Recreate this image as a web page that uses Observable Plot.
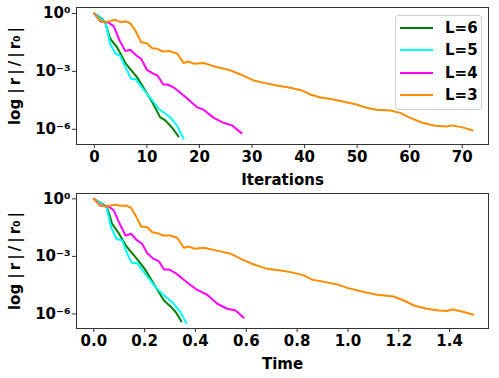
<!DOCTYPE html>
<html>
<head>
<meta charset="utf-8">
<script src="https://cdn.jsdelivr.net/npm/d3@7"></script>
<script src="https://cdn.jsdelivr.net/npm/@observablehq/plot@0.6"></script>
<style>
  body { margin: 0; background: #fff; }
  #wrap { position: relative; width: 499px; height: 378px; font-family: "DejaVu Sans", sans-serif; font-weight: bold; }
  #wrap svg { display: block; }
  #legend { position: absolute; left: 395px; top: 15px; width: 87px; height: 95px; box-sizing: border-box;
    border: 1px solid #d0d0d0; border-radius: 3px; background: rgba(255,255,255,0.85); }
  .entry { position: absolute; left: 4px; height: 22px; display: flex; align-items: center; font-size: 15px; color: #000; }
  .entry .sw { width: 33px; height: 2px; margin-right: 12px; }
</style>
</head>
<body>
<div id="wrap"><div id="top"></div><div id="bottom"></div><div id="legend"></div></div>
<script>
// ---- data (log10 of |r|/|r0|) ----
const seriesNames = ["L=6", "L=5", "L=4", "L=3"];
const seriesColors = ["#008000", "#00FFFF", "#FF00FF", "#FF8C00"];
const yTicks = [1, 1e-3, 1e-6];
const yTickLabels = ["10\u2070", "10\u207B\u00B3", "10\u207B\u2076"];
const yLabel = "log |\u2009r\u2009|\u2009/\u2009|\u2009r\u2080\u2009|";
const iterTicks = [0, 10, 20, 30, 40, 50, 60, 70];
const timeTicks = [0, 0.2, 0.4, 0.6, 0.8, 1.0, 1.2, 1.4];

// Top panel: iterations
const iterL6 = [0, 1.5, 2.1, 3, 4.3, 5.9, 8.1, 9.1, 11, 12.5, 13.5, 14.8, 16];
const logIterL6 = [0, -0.28, -0.50, -1.31, -1.74, -2.57, -3.30, -3.73, -4.59, -5.37, -5.54, -5.92, -6.37];
const iterL5 = [0, 1.5, 2.1, 3, 4, 4.9, 5.9, 7, 7.8, 9.1, 11.3, 12.2, 14.4, 15.7, 17];
const logIterL5 = [0, -0.33, -0.45, -1.57, -2.09, -2.18, -2.78, -3.39, -3.39, -3.85, -4.59, -4.94, -5.37, -5.80, -6.49];
const iterL4 = [0, 1.1, 2.7, 3.7, 4.8, 5.9, 6.8, 8, 8.9, 10, 11.3, 12, 13.1, 13.9, 15.2, 17, 19.5, 20.8, 22.7, 24.7, 26.2, 27, 28];
const logIterL4 = [0, -0.40, -0.47, -0.67, -1.40, -1.95, -1.88, -2.18, -2.35, -2.92, -3.13, -3.21, -3.68, -3.68, -3.85, -4.25, -4.85, -4.99, -5.41, -5.68, -5.80, -5.98, -6.20];
const iterL3 = [0, 1, 1.8, 2.7, 4, 5, 5.9, 6.8, 7.8, 8.9, 10, 11, 12, 13, 14.4, 15.8, 17, 17.9, 19, 20.8, 22.7, 25.9, 27.8, 30.3, 32.5, 34.7, 37.3, 39.5, 41.1, 42.9, 45.5, 47.7, 49.9, 51.8, 53.7, 56.3, 58.2, 60.1, 62.6, 64.8, 67, 68, 69.9, 72];
const logIterL3 = [0, -0.36, -0.45, -0.41, -0.33, -0.45, -0.40, -0.50, -0.88, -1.49, -1.54, -1.80, -1.83, -1.97, -1.95, -2.09, -2.57, -2.49, -2.61, -2.57, -2.73, -2.95, -3.16, -3.47, -3.61, -3.73, -3.85, -3.99, -4.20, -4.34, -4.46, -4.59, -4.72, -4.89, -4.99, -5.03, -5.15, -5.41, -5.68, -5.82, -5.86, -5.80, -5.89, -6.06];

// Bottom panel: time
const timeL6 = [0, 0.033, 0.052, 0.072, 0.098, 0.131, 0.177, 0.200, 0.236, 0.276, 0.302, 0.322, 0.345];
const logTimeL6 = [0, -0.26, -0.43, -1.30, -1.79, -2.52, -3.25, -3.65, -4.43, -5.30, -5.61, -5.90, -6.39];
const timeL5 = [0, 0.039, 0.050, 0.068, 0.089, 0.112, 0.131, 0.151, 0.171, 0.197, 0.243, 0.269, 0.315, 0.341, 0.364];
const logTimeL5 = [0, -0.35, -0.43, -1.48, -2.08, -2.17, -2.86, -3.35, -3.35, -3.82, -4.60, -4.95, -5.47, -5.90, -6.48];
const timeL4 = [0, 0.026, 0.059, 0.079, 0.102, 0.125, 0.147, 0.168, 0.190, 0.210, 0.236, 0.256, 0.276, 0.295, 0.322, 0.354, 0.400, 0.446, 0.486, 0.525, 0.558, 0.590];
const logTimeL4 = [0, -0.35, -0.40, -0.61, -1.30, -1.91, -1.82, -2.14, -2.34, -2.83, -3.13, -3.25, -3.68, -3.68, -3.87, -4.22, -4.69, -5.00, -5.47, -5.73, -5.82, -6.20];
const timeL3 = [0, 0.024, 0.046, 0.085, 0.105, 0.129, 0.147, 0.168, 0.186, 0.210, 0.230, 0.252, 0.273, 0.302, 0.328, 0.354, 0.374, 0.396, 0.433, 0.472, 0.538, 0.591, 0.630, 0.682, 0.735, 0.774, 0.827, 0.860, 0.892, 0.958, 0.997, 1.063, 1.115, 1.180, 1.220, 1.260, 1.310, 1.357, 1.390, 1.410, 1.456, 1.493];
const logTimeL3 = [0, -0.35, -0.40, -0.30, -0.36, -0.35, -0.47, -0.95, -1.44, -1.48, -1.74, -1.79, -1.91, -1.91, -2.03, -2.55, -2.48, -2.60, -2.55, -2.66, -2.86, -3.21, -3.42, -3.65, -3.73, -3.82, -3.99, -4.22, -4.29, -4.46, -4.64, -4.86, -5.00, -5.09, -5.30, -5.56, -5.73, -5.82, -5.85, -5.76, -5.90, -6.04];

function rows(xs, logs, name) {
  return xs.map((x, i) => ({x, y: Math.pow(10, logs[i]), s: name}));
}
const topData = [
  ...rows(iterL6, logIterL6, "L=6"), ...rows(iterL5, logIterL5, "L=5"),
  ...rows(iterL4, logIterL4, "L=4"), ...rows(iterL3, logIterL3, "L=3")
];
const botData = [
  ...rows(timeL6, logTimeL6, "L=6"), ...rows(timeL5, logTimeL5, "L=5"),
  ...rows(timeL4, logTimeL4, "L=4"), ...rows(timeL3, logTimeL3, "L=3")
];

const ink = "#333";
function panel({data, xDomain, yDomain, xTicks, xFormat, xLabel, xLabelOffset, marginTop, marginBottom, height}) {
  return Plot.plot({
    width: 499, height,
    marginLeft: 76, marginRight: 11, marginTop, marginBottom,
    style: {fontFamily: "DejaVu Sans", fontWeight: "bold", fontSize: "15px", color: "#000", background: "#fff"},
    x: {domain: xDomain},
    y: {type: "log", domain: yDomain},
    color: {domain: seriesNames, range: seriesColors},
    marks: [
      Plot.frame({stroke: ink, strokeWidth: 1}),
      Plot.axisX({ticks: xTicks, tickFormat: xFormat, tickSize: 4, tickPadding: 3, stroke: ink, fontSize: 15,
        label: xLabel, labelAnchor: "center", labelArrow: "none", labelOffset: xLabelOffset}),
      Plot.axisY({ticks: yTicks, tickFormat: (d) => yTickLabels[yTicks.indexOf(d)], tickSize: 4, tickPadding: 2, stroke: ink, fontSize: 15,
        label: yLabel, labelAnchor: "center", labelArrow: "none", labelOffset: 67}),
      Plot.line(data, {x: "x", y: "y", z: "s", stroke: "s", strokeWidth: 2, curve: "linear"})
    ]
  });
}

document.getElementById("top").append(panel({
  data: topData, xDomain: [-3.4, 75], yDomain: [Math.pow(10, -6.79), Math.pow(10, 0.31)],
  xTicks: iterTicks, xFormat: (d) => String(d), xLabel: "Iterations", xLabelOffset: 40,
  marginTop: 7, marginBottom: 45, height: 189
}));
document.getElementById("bottom").append(panel({
  data: botData, xDomain: [-0.068, 1.553], yDomain: [Math.pow(10, -6.76), Math.pow(10, 0.28)],
  xTicks: timeTicks, xFormat: (d) => d.toFixed(1), xLabel: "Time", xLabelOffset: 40,
  marginTop: 4, marginBottom: 50, height: 189
}));

const leg = document.getElementById("legend");
seriesNames.forEach((n, i) => {
  const e = document.createElement("div");
  e.className = "entry";
  e.style.top = (0.5 + i * 22.6) + "px";
  const sw = document.createElement("div");
  sw.className = "sw"; sw.style.background = seriesColors[i];
  const t = document.createElement("span"); t.textContent = n;
  e.append(sw, t); leg.append(e);
});
</script>
</body>
</html>
